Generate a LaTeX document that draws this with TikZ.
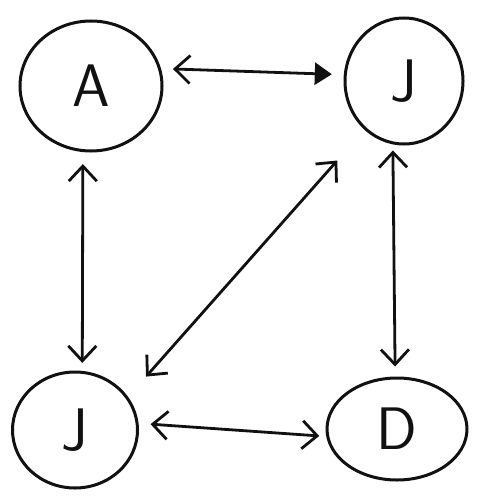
\documentclass[tikz,border=0pt]{standalone}
\usepackage{tikz}
\usetikzlibrary{arrows.meta, shapes.geometric}
\definecolor{skInk}{HTML}{111111}
\tikzset{
  blob/.style={
    ellipse, draw=skInk, line width=3pt, fill=white,
    inner sep=0pt, text=skInk, font=\fontsize{60}{60}\selectfont\sffamily
  },
  barb/.style={{Straight Barb[length=15pt, width=28pt, line width=2.8pt]}-{Straight Barb[length=15pt, width=28pt, line width=2.8pt]},
    line width=2.8pt, draw=skInk},
  barbf/.style={barb, {Straight Barb[length=15pt, width=28pt, line width=2.8pt]}-{Triangle[length=17pt, width=22pt]}},
}

\begin{document}
\begin{tikzpicture}[x=1pt, y=-1pt]
  \useasboundingbox (0,0) rectangle (480,500);
  \node[blob, minimum width=142pt, minimum height=130pt] (a)  at (91,86)  {A};
  \node[blob, minimum width=118pt, minimum height=126pt] (jt) at (404,81) {J};
  \node[blob, minimum width=125pt, minimum height=116pt] (jb) at (75,430) {J};
  \node[blob, minimum width=140pt, minimum height=102pt] (d)  at (397,429) {D};

  % sides
  \draw[barbf, shorten <=12pt, shorten >=12pt] (a.14) -- (jt.174);
  \draw[barb, shorten <=12pt, shorten >=8pt] (a.263) -- (jb.83);
  \draw[barb, shorten <=6pt, shorten >=10pt] (jt.260) -- (d.92);
  \draw[barb, shorten <=12pt, shorten >=7pt] (jb.6) -- (d.186);
  % diagonal
  \draw[barb, shorten <=27pt, shorten >=41pt] (jb.32) -- (jt.231);
\end{tikzpicture}
\end{document}
